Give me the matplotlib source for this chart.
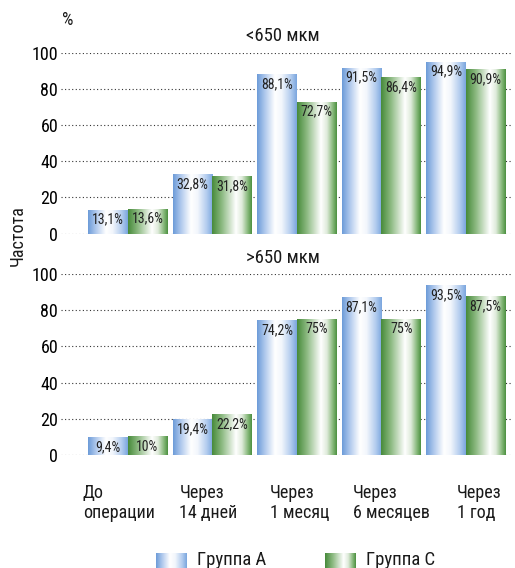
import numpy as np
import matplotlib
matplotlib.use("Agg")
import matplotlib.pyplot as plt
from matplotlib.colors import LinearSegmentedColormap

#--------------- Style ---------------------
plt.rcParams['font.family'] = ['Liberation Sans Narrow', 'Roboto Condensed', 'DejaVu Sans']
plt.rcParams['font.stretch'] = 'condensed'
plt.rcParams['font.size'] = 12
plt.rcParams['text.color'] = '#1a1a1a'

#--------------- Data ----------------------
periods = ["До\nоперации", "Через\n14 дней", "Через\n1 месяц", "Через\n6 месяцев", "Через\n1 год"]
label_shift = [-0.53, -0.39, -0.32, -0.34, -0.11]
panels = ["<650 мкм", ">650 мкм"]
groups = ["Группа А", "Группа С"]

small_a = [13.1, 32.8, 88.1, 91.5, 94.9]
small_c = [13.6, 31.8, 72.7, 86.4, 90.9]
large_a = [9.4, 19.4, 74.2, 87.1, 93.5]
large_c = [10, 22.2, 75, 75, 87.5]

yticks = [0, 20, 40, 60, 80, 100]

blue = LinearSegmentedColormap.from_list("blue", [
    (0.0, '#6c9bd8'), (0.2, '#b0c9ed'), (0.45, '#ffffff'),
    (0.62, '#f2f6fc'), (0.85, '#b1cbee'), (1.0, '#7aa6de')])
green = LinearSegmentedColormap.from_list("green", [
    (0.0, '#468a3a'), (0.25, '#8dba82'), (0.6, '#ffffff'),
    (0.75, '#dfebdb'), (0.9, '#86b87a'), (1.0, '#4c9040')])
grad = np.linspace(0, 1, 256).reshape(1, -1)


def fmt(v):
    s = ("%.1f" % v).rstrip('0').rstrip('.')
    return s.replace('.', ',') + '%'


def panel(ax, vals_a, vals_c, title):
    x = np.arange(len(periods))
    w = 0.4675
    for vals, cmap, off in [(vals_a, blue, -w / 2), (vals_c, green, w / 2)]:
        bars = ax.bar(x + off, vals, w, facecolor='none', edgecolor='none', zorder=2)
        for r, v in zip(bars, vals):
            x0, y0 = r.get_x(), r.get_y()
            ax.imshow(grad, cmap=cmap, aspect='auto', zorder=2,
                      extent=[x0, x0 + r.get_width(), y0, y0 + r.get_height()])
            ax.annotate(fmt(v), (x0 + r.get_width() / 2, v), xytext=(0, -2),
                        textcoords='offset points', ha='center', va='top',
                        fontsize=10, color='#222222', zorder=3)
    ax.set_xlim(-0.79, 4.556)
    ax.set_ylim(0, 100)
    ax.set_yticks(yticks)
    ax.set_xticks([])
    ax.tick_params(axis='y', length=0, pad=2, labelsize=13)
    ax.yaxis.grid(True, linestyle=(0, (1, 2.2)), linewidth=0.8, color='#333333', zorder=0)
    ax.set_axisbelow(True)
    for s in ax.spines.values():
        s.set_visible(False)
    ax.text(0.49, 1.09, title, transform=ax.transAxes, ha='center', va='center', fontsize=13.5)


fig = plt.figure(figsize=(5.15, 5.68), dpi=100)
ax1 = fig.add_axes([0.1184, 0.5887, 0.8777, 0.3187])
ax2 = fig.add_axes([0.1184, 0.1990, 0.8777, 0.3187])
panel(ax1, small_a, small_c, panels[0])
panel(ax2, large_a, large_c, panels[1])

# period labels under the lower panel
for i, (name, dx) in enumerate(zip(periods, label_shift)):
    ax2.annotate(name, (i + dx, 0), xytext=(0, -21), textcoords='offset points',
                 ha='left', va='top', fontsize=13, linespacing=1.1, annotation_clip=False)

fig.text(68 / 515, 1 - 20 / 568, "%", ha='center', va='center', fontsize=13)
fig.text(18 / 515, 1 - 236 / 568, "Частота", rotation=90, ha='center', va='center', fontsize=13)

# legend row along the bottom edge
leg = fig.add_axes([0, 0, 1, 1])
leg.axis('off')
leg.patch.set_alpha(0)
for (x0, cmap), name in zip([(156, blue), (325, green)], groups):
    leg.imshow(grad, cmap=cmap, aspect='auto', extent=[x0, x0 + 31, 575, 553])
    leg.text(x0 + 41, 565, name, ha='left', va='baseline', fontsize=13.5)
leg.set_xlim(0, 515)
leg.set_ylim(568, 0)

fig.savefig("out.png", dpi=100)
